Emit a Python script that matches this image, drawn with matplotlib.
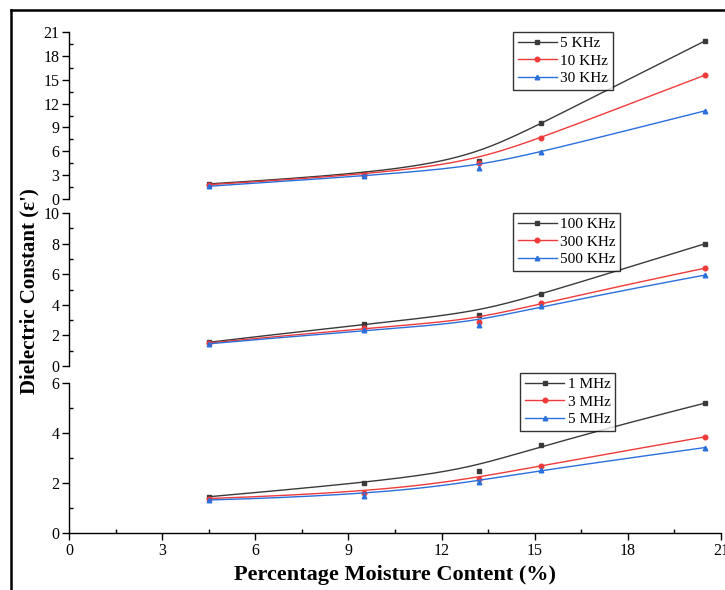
import numpy as np
import matplotlib
matplotlib.use("Agg")
import matplotlib.pyplot as plt
from matplotlib.ticker import MultipleLocator
from matplotlib.lines import Line2D

plt.rcParams['font.family'] = ['Liberation Serif', 'DejaVu Serif']
plt.rcParams['mathtext.fontset'] = 'stix'

moisture = [4.5, 9.5, 13.2, 15.2, 20.5]

# top panel (kHz)
f5k = [1.9, 3.1, 4.8, 9.6, 19.9]
f10k = [1.8, 3.0, 4.5, 7.7, 15.6]
f30k = [1.6, 2.9, 3.9, 5.9, 11.1]
# middle panel
f100k = [1.55, 2.75, 3.35, 4.7, 8.0]
f300k = [1.5, 2.5, 2.85, 4.15, 6.4]
f500k = [1.45, 2.35, 2.7, 3.95, 5.95]
# bottom panel (MHz)
f1m = [1.45, 2.0, 2.5, 3.53, 5.2]
f3m = [1.38, 1.6, 2.18, 2.7, 3.85]
f5m = [1.32, 1.5, 2.05, 2.52, 3.42]

labels_top = ['5 KHz', '10 KHz', '30 KHz']
labels_mid = ['100 KHz', '300 KHz', '500 KHz']
labels_bot = ['1 MHz', '3 MHz', '5 MHz']

colors = ['#3a3a3a', '#f03a3a', '#2a6fdc']
markers = ['s', 'o', '^']


def bspline(xs, ys, n=300, k=3):
    P = np.column_stack([xs, ys]).astype(float)
    m = len(P)
    inner = np.linspace(0, 1, m - k + 1)[1:-1]
    t = np.concatenate([np.zeros(k + 1), inner, np.ones(k + 1)])
    u = np.linspace(0, 1, n)
    u[-1] = 1 - 1e-10

    def N(i, p, u):
        if p == 0:
            return np.where((t[i] <= u) & (u < t[i + 1]), 1.0, 0.0)
        a = 0.0
        d1 = t[i + p] - t[i]
        if d1 > 0:
            a = (u - t[i]) / d1 * N(i, p - 1, u)
        b = 0.0
        d2 = t[i + p + 1] - t[i + 1]
        if d2 > 0:
            b = (t[i + p + 1] - u) / d2 * N(i + 1, p - 1, u)
        return a + b

    C = np.zeros((n, 2))
    for i in range(m):
        C += N(i, k, u)[:, None] * P[i]
    return C[:, 0], C[:, 1]


fig = plt.figure(figsize=(7.25, 5.9), dpi=100)
L, W = 69 / 725, 652 / 725
ax1 = fig.add_axes([L, 1 - 199 / 590, W, 167 / 590])
ax2 = fig.add_axes([L, 1 - 366 / 590, W, 153 / 590])
ax3 = fig.add_axes([L, 1 - 533 / 590, W, 150 / 590])

panels = [
    (ax1, [f5k, f10k, f30k], labels_top, (0, 21), 3, 1.5, (0.681, 1.0)),
    (ax2, [f100k, f300k, f500k], labels_mid, (0, 10), 2, 1, (0.681, 1.0)),
    (ax3, [f1m, f3m, f5m], labels_bot, (0, 6), 2, 1, (0.692, 1.067)),
]

for ax, series, labs, ylim, maj, mnr, anchor in panels:
    handles = []
    for s, c, mk, lb in zip(series, colors, markers, labs):
        bx, by = bspline(moisture, s)
        ax.plot(bx, by, color=c, lw=1.0)
        ax.plot(moisture, s, linestyle='none', marker=mk, color=c, ms=3.3)
        handles.append(Line2D([], [], color=c, lw=1.0, marker=mk, ms=3.3, label=lb))
    ax.set_xlim(0, 21)
    ax.set_ylim(*ylim)
    ax.yaxis.set_major_locator(MultipleLocator(maj))
    ax.yaxis.set_minor_locator(MultipleLocator(mnr))
    ax.xaxis.set_major_locator(MultipleLocator(3))
    ax.xaxis.set_minor_locator(MultipleLocator(1.5))
    for sp in ['top', 'right']:
        ax.spines[sp].set_visible(False)
    ax.spines['left'].set_linewidth(1.0)
    ax.spines['bottom'].set_linewidth(1.0)
    ax.tick_params(axis='both', which='major', direction='out', length=5, width=1,
                   labelsize=11.5, pad=2)
    ax.tick_params(axis='both', which='minor', direction='in', length=3, width=1)
    ax.set_facecolor('none')
    leg = ax.legend(handles=handles, loc='upper left', bbox_to_anchor=anchor,
                    frameon=True, fancybox=False, fontsize=11, handlelength=2.6,
                    handletextpad=0.2, borderpad=0.3, labelspacing=0.25,
                    borderaxespad=0)
    leg.get_frame().set_edgecolor('black')
    leg.get_frame().set_linewidth(1.0)

for ax in (ax1, ax2):
    ax.spines['bottom'].set_visible(False)
    ax.tick_params(axis='x', which='both', bottom=False, labelbottom=False)

fig.text(0.041, 0.507, "Dielectric Constant (\u03b5')", rotation=90, ha='center',
         va='center', fontsize=15, fontweight='bold')
fig.text(0.545, 0.025, 'Percentage Moisture Content (%)', ha='center', va='center',
         fontsize=16, fontweight='bold')

# outer frame fragment
fig.add_artist(Line2D([11 / 725, 11 / 725], [0, 1 - 10 / 590], color='black', lw=1.8,
                      transform=fig.transFigure))
fig.add_artist(Line2D([11 / 725, 1], [1 - 10 / 590, 1 - 10 / 590], color='black', lw=1.8,
                      transform=fig.transFigure))

fig.savefig('out.png', dpi=100)
